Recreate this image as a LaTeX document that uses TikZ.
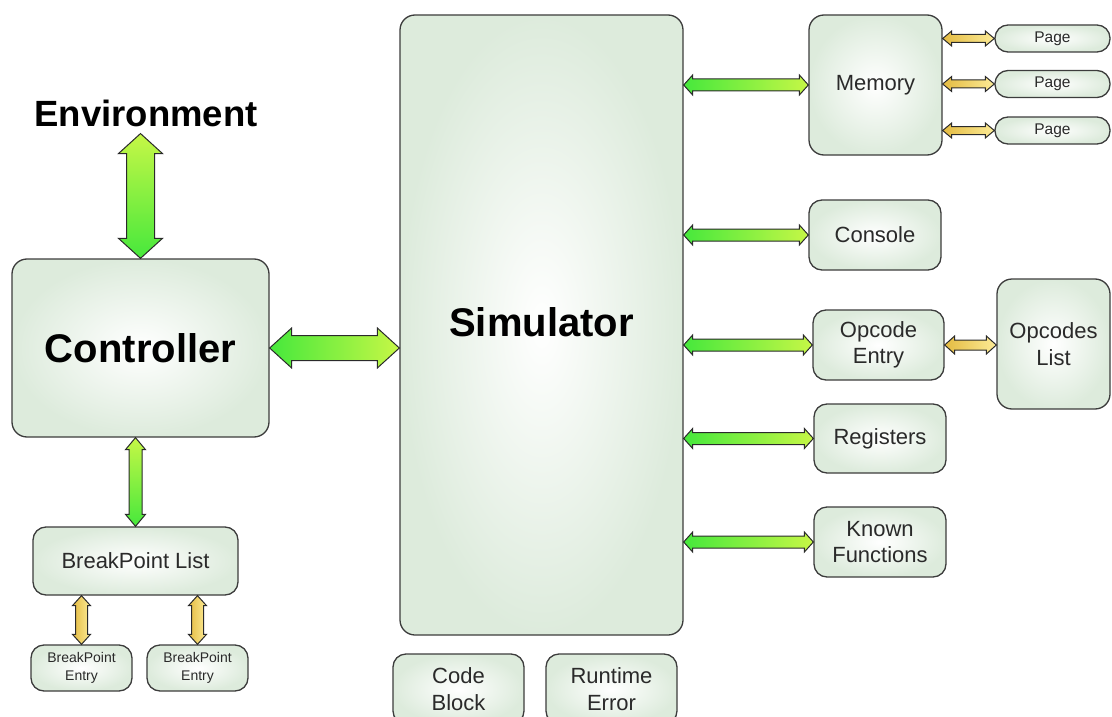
\documentclass[tikz,border=0pt]{standalone}
\usepackage{fontspec}
\setmainfont{Liberation Sans}
\usetikzlibrary{calc}

\definecolor{boxfill}{HTML}{DDEBDC}
\definecolor{boxline}{HTML}{3C3C3C}
\definecolor{txt}{HTML}{2A2A2A}
\definecolor{grnA}{HTML}{46E83C}
\definecolor{grnB}{HTML}{C6F746}
\definecolor{ylwA}{HTML}{E4BB42}
\definecolor{ylwB}{HTML}{FCEB96}
\definecolor{arrline}{HTML}{2A2A2A}

% horizontal double arrow: style, left end, right end, shaft half-width, head half-width, head length
\newcommand\hlink[6]{%
  \path[#1] let \p1=(#2), \p2=(#3) in
    (\x1,\y1) -- (\x1+#6,\y1+#5) -- (\x1+#6,\y1+#4) -- (\x2-#6,\y1+#4) -- (\x2-#6,\y1+#5)
    -- (\x2,\y1) -- (\x2-#6,\y1-#5) -- (\x2-#6,\y1-#4) -- (\x1+#6,\y1-#4) -- (\x1+#6,\y1-#5) -- cycle;}
% vertical double arrow: style, upper end, lower end, shaft half-width, head half-width, head length
\newcommand\vlink[6]{%
  \path[#1] let \p1=(#2), \p2=(#3) in
    (\x1,\y1) -- (\x1+#5,\y1-#6) -- (\x1+#4,\y1-#6) -- (\x1+#4,\y2+#6) -- (\x1+#5,\y2+#6)
    -- (\x1,\y2) -- (\x1-#5,\y2+#6) -- (\x1-#4,\y2+#6) -- (\x1-#4,\y1-#6) -- (\x1-#5,\y1-#6) -- cycle;}

\begin{document}
\begin{tikzpicture}[x=1pt,y=-1pt,
  box/.style={draw=boxline, line width=1.3pt, rounded corners=15pt,
    inner color=white, outer color=boxfill, text=txt, align=center,
    font=\fontsize{22}{26.5}\selectfont},
  smallbox/.style={box, rounded corners=13pt},
  pagebox/.style={box, rounded corners=13pt, font=\fontsize{15.5}{18}\selectfont},
  entrybox/.style={box, rounded corners=13pt, font=\fontsize{14}{17.5}\selectfont},
  bigbox/.style={box, text=black, font=\fontsize{40}{46}\selectfont\bfseries},
  greenH/.style={draw=arrline, line width=1pt, line join=miter, left color=grnA, right color=grnB},
  greenV/.style={draw=arrline, line width=1pt, line join=miter, top color=grnB, bottom color=grnA},
  yellowH/.style={draw=arrline, line width=1pt, line join=miter, left color=ylwA, right color=ylwB},
  yellowV/.style={draw=arrline, line width=1pt, line join=miter, left color=ylwA, right color=ylwB}]
\useasboundingbox (0,0) rectangle (1112,717);
\clip (0,0) rectangle (1112,717);

% main blocks
\node[bigbox, minimum width=283pt, minimum height=620pt] (sim) at (541.5,325) {};
\node[font=\fontsize{40}{46}\selectfont\bfseries] (simlabel) at (541.5,322) {Simulator};
\node[bigbox, minimum width=257pt, minimum height=178pt] (ctrl) at (140.5,348) {Controller};
\node[anchor=base, inner sep=7pt, font=\fontsize{36.5}{40}\selectfont\bfseries] (env) at (146,126) {Environment};

% simulator parts
\node[box, minimum width=133pt, minimum height=140pt] (mem) at (875.5,85) {Memory};
\node[pagebox, minimum width=115pt, minimum height=27pt] (page1) at (1052.5,38.5) {Page};
\node[pagebox, minimum width=115pt, minimum height=27pt] (page2) at (1052.5,84) {Page};
\node[pagebox, minimum width=115pt, minimum height=27pt] (page3) at (1052.5,130.5) {Page};
\node[smallbox, minimum width=132pt, minimum height=70pt] (cons) at (875,235) {Console};
\node[smallbox, minimum width=131pt, minimum height=70pt] (opent) at (878.5,345) {Opcode\\Entry};
\node[box, minimum width=113pt, minimum height=130pt] (oplist) at (1053.5,344) {Opcodes\\List};
\node[smallbox, minimum width=132pt, minimum height=69pt] (regs) at (880,438.5) {Registers};
\node[smallbox, minimum width=132pt, minimum height=70pt] (known) at (880,542) {Known\\Functions};
\node[smallbox, minimum width=131pt, minimum height=70pt] (code) at (458.5,689) {Code\\Block};
\node[smallbox, minimum width=131pt, minimum height=70pt] (rterr) at (611.5,689) {Runtime\\Error};

% breakpoints
\node[smallbox, minimum width=205pt, minimum height=68pt] (bpl) at (135.5,561) {BreakPoint List};
\node[entrybox, minimum width=101pt, minimum height=46pt] (bpe1) at (81.5,668) {BreakPoint\\Entry};
\node[entrybox, minimum width=101pt, minimum height=46pt] (bpe2) at (197.5,668) {BreakPoint\\Entry};

% links
\vlink{greenV}{ctrl.north |- env.south}{ctrl.north}{14pt}{22pt}{20pt}
\hlink{greenH}{ctrl.east}{sim.west |- ctrl.east}{12.5pt}{20pt}{22pt}
\vlink{greenV}{bpl.north |- ctrl.south}{bpl.north}{6.5pt}{10pt}{12pt}
\vlink{yellowV}{bpe1.north |- bpl.south}{bpe1.north}{6pt}{9pt}{10pt}
\vlink{yellowV}{bpe2.north |- bpl.south}{bpe2.north}{6pt}{9pt}{10pt}

\hlink{greenH}{sim.east |- mem.west}{mem.west}{6pt}{10pt}{9pt}
\hlink{greenH}{sim.east |- cons.west}{cons.west}{6pt}{10pt}{9pt}
\hlink{greenH}{sim.east |- opent.west}{opent.west}{6pt}{10pt}{9pt}
\hlink{greenH}{sim.east |- regs.west}{regs.west}{6pt}{10pt}{9pt}
\hlink{greenH}{sim.east |- known.west}{known.west}{6pt}{10pt}{9pt}

\hlink{yellowH}{mem.east |- page1.west}{page1.west}{4pt}{7.5pt}{9pt}
\hlink{yellowH}{mem.east |- page2.west}{page2.west}{4pt}{7.5pt}{9pt}
\hlink{yellowH}{mem.east |- page3.west}{page3.west}{4pt}{7.5pt}{9pt}
\hlink{yellowH}{opent.east}{oplist.west |- opent.east}{5pt}{9pt}{10pt}
\end{tikzpicture}
\end{document}
